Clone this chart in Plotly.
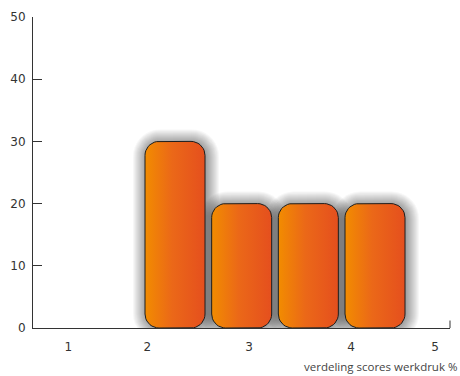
import numpy as np
import plotly.graph_objects as go

# Score distribution (percent per bar)
bar_slots = [1, 2, 3, 4]
bar_values = [30, 20, 20, 20]

# x-axis tick labels and where they sit along the slot axis
tick_labels = ["1", "2", "3", "4", "5"]
tick_slots = [-0.6, 0.585, 2.11, 3.64, 4.9]

y_ticks = [0, 10, 20, 30, 40, 50]
x_title = "verdeling scores werkdruk %"

W, H = 460, 376
M = dict(l=33, r=10, t=17, b=48)
X_RANGE = [-1.13, 5.125]
Y_RANGE = [0, 50]

# pixel -> data unit conversions
px_x = (X_RANGE[1] - X_RANGE[0]) / (W - M["l"] - M["r"])
px_y = (Y_RANGE[1] - Y_RANGE[0]) / (H - M["t"] - M["b"])

BAR_W = 60 * px_x
RADIUS_PX = 14


def rounded_rect(x0, x1, y0, y1, rx, ry, n=10):
    t = np.linspace(0, np.pi / 2, n)
    xs, ys = [], []
    # top-right, top-left, bottom-left, bottom-right corners
    corners = [
        (x1 - rx, y1 - ry, 0.0),
        (x0 + rx, y1 - ry, np.pi / 2),
        (x0 + rx, y0 + ry, np.pi),
        (x1 - rx, y0 + ry, 1.5 * np.pi),
    ]
    for cx, cy, a0 in corners:
        a = a0 + t
        xs.extend(cx + rx * np.cos(a))
        ys.extend(cy + ry * np.sin(a))
    xs.append(xs[0])
    ys.append(ys[0])
    return xs, ys


fig = go.Figure()

# soft drop shadow behind each bar
for xc, v in zip(bar_slots, bar_values):
    for d in range(13, -1, -1):
        dx, dy = d * px_x, d * px_y
        r = RADIUS_PX + d
        xs, ys = rounded_rect(xc - BAR_W / 2 - dx + px_x, xc + BAR_W / 2 + dx + px_x,
                              0 - dy, v + dy - px_y, r * px_x, r * px_y)
        fig.add_trace(go.Scatter(
            x=xs, y=ys, mode="lines", fill="toself",
            fillcolor="rgba(0,0,0,0.032)", line=dict(width=0),
            hoverinfo="skip", showlegend=False))

# the bars themselves: rounded, with a horizontal orange gradient
for xc, v in zip(bar_slots, bar_values):
    xs, ys = rounded_rect(xc - BAR_W / 2, xc + BAR_W / 2, 0, v,
                          RADIUS_PX * px_x, RADIUS_PX * px_y)
    fig.add_trace(go.Scatter(
        x=xs, y=ys, mode="lines", fill="toself",
        fillgradient=dict(type="horizontal",
                          colorscale=[[0, "#F28C00"], [0.45, "#EB6818"], [1, "#E54F1E"]]),
        line=dict(color="#1e1e1e", width=1),
        hovertemplate=f"{v}%<extra></extra>", showlegend=False))

axis_font = dict(family="DejaVu Sans", size=12, color="#333333")

fig.update_xaxes(
    range=X_RANGE, showgrid=False, zeroline=False,
    showline=True, linecolor="#333333", linewidth=1,
    tickmode="array", tickvals=tick_slots, ticktext=tick_labels,
    ticks="", tickfont=axis_font, ticklabelstandoff=8,
)
fig.update_yaxes(
    range=Y_RANGE, showgrid=False, zeroline=False,
    showline=True, linecolor="#333333", linewidth=1,
    tickmode="array", tickvals=y_ticks,
    ticks="inside", ticklen=9, tickcolor="#333333", tickwidth=1,
    tickfont=axis_font, ticklabelstandoff=4,
)

# small upright tick closing the right end of the x axis
fig.add_shape(type="line", xref="x domain", yref="y domain",
              x0=1, x1=1, y0=0, y1=0.024,
              line=dict(color="#333333", width=1))

fig.add_annotation(
    text=x_title, xref="paper", yref="paper",
    x=1.021, y=-0.125, xanchor="right", yanchor="middle",
    showarrow=False, font=dict(family="Open Sans", size=11.5, color="#444444"))

fig.update_layout(
    width=W, height=H, margin=M,
    plot_bgcolor="white", paper_bgcolor="white",
)

fig.write_html("out.html")
